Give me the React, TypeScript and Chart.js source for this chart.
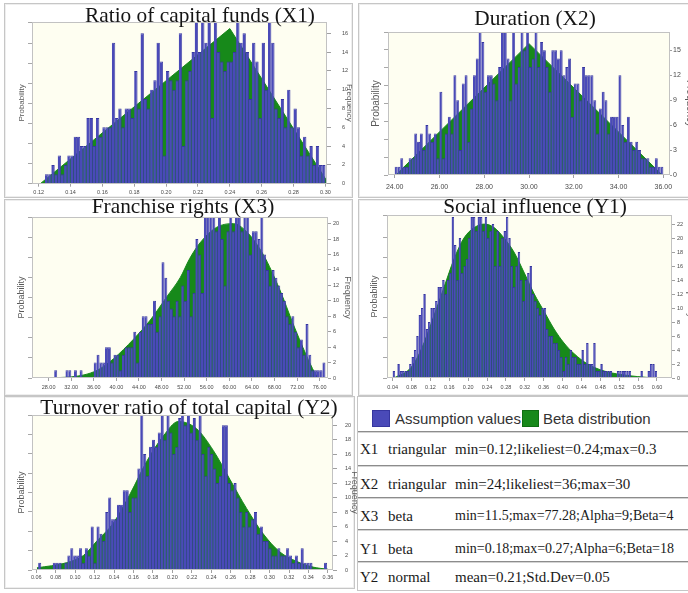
import React, { useEffect, useRef } from 'react';
import { Chart, registerables } from 'chart.js';

Chart.register(...registerables);

// ---------------- data ----------------
const SERIES_LABELS = ['Assumption values', 'Beta distribution'];
const LEFT_AXIS_TITLE = 'Probability';
const RIGHT_AXIS_TITLE = 'Frequency';

// X1
const X1_TITLE = 'Ratio of capital funds (X1)';
const X1_BIN_START = 0.124;
const X1_BIN_WIDTH = 0.002;
const X1_FREQ = [
  1, 1, 2, 1, 3, 1, 2, 3, 3, 5,
  5, 4, 4, 7, 7, 4, 7, 5, 6, 6,
  6, 15, 7, 8, 6, 8, 8, 7, 12, 8,
  16, 9, 8, 10, 11, 15, 13, 3, 12, 11,
  10, 11, 16, 4, 11, 12, 14, 18, 14, 18,
  15, 18, 7, 18, 14, 13, 12, 13, 13, 14,
  18, 15, 16, 14, 9, 15, 13, 7, 15, 10,
  18, 15, 8, 7, 9, 6, 10, 6, 8, 6,
  3, 5, 3, 4, 2, 4, 2, 2,
];
const X1_FIT_X = [0.121, 0.24, 0.302];
const X1_FIT_Y = [0, 16.5, 0];
const X1_X_TICKS = ['0.12', '0.14', '0.16', '0.18', '0.20', '0.22', '0.24', '0.26', '0.28', '0.30'];
const X1_Y_TICKS = ['0', '2', '4', '6', '8', '10', '12', '14', '16'];

// X2
const X2_TITLE = 'Duration (X2)';
const X2_BIN_START = 24.0;
const X2_BIN_WIDTH = 0.125;
const X2_FREQ = [
  1, 1, 2, 1, 1, 2, 2, 5, 4, 5,
  3, 6, 5, 4, 5, 2, 10, 2, 5, 7,
  5, 12, 9, 3, 11, 12, 4, 8, 12, 14,
  18, 16, 10, 12, 12, 11, 9, 13, 18, 18,
  14, 9, 18, 11, 13, 18, 15, 18, 13, 14,
  18, 13, 16, 15, 13, 10, 15, 15, 14, 15,
  12, 13, 14, 7, 11, 11, 9, 13, 12, 12,
  12, 9, 5, 8, 10, 9, 5, 7, 7, 7,
  12, 6, 4, 7, 4, 3, 4, 3, 2, 2,
  2, 1, 1, 2, 1, 1,
];
const X2_FIT_X = [24.05, 30.0, 35.95];
const X2_FIT_Y = [0, 15.8, 0];
const X2_X_TICKS = ['24.00', '26.00', '28.00', '30.00', '32.00', '34.00', '36.00'];
const X2_Y_TICKS = ['0', '3', '6', '9', '12', '15'];

// X3
const X3_TITLE = 'Franchise rights (X3)';
const X3_BIN_START = 26.0;
const X3_BIN_WIDTH = 0.5;
const X3_FREQ = [
  0, 0, 0, 0, 0, 0, 1, 0, 0, 0,
  1, 1, 0, 1, 0, 1, 0, 0, 0, 0,
  2, 3, 2, 2, 4, 4, 2, 3, 3, 1,
  3, 4, 4, 4, 6, 2, 6, 8, 8, 7,
  7, 10, 6, 8, 15, 13, 10, 9, 8, 10,
  8, 12, 10, 14, 8, 11, 18, 16, 11, 22,
  22, 22, 22, 19, 22, 18, 12, 19, 22, 19,
  22, 22, 19, 21, 21, 16, 19, 19, 18, 22,
  16, 14, 12, 14, 13, 12, 11, 10, 8, 7,
  8, 6, 4, 5, 3, 7, 3, 1, 1, 1,
  1, 2,
];
const X3_FIT_X = [26.5, 31.2, 34.8, 37.1, 39.5, 43.0, 46.0, 48.9, 51.3, 53.0, 54.8, 57.7, 60.7, 63.0, 66.0, 68.9, 71.3, 73.6, 75.1, 75.7];
const X3_FIT_Y = [0, 0.1, 0.5, 1.2, 2.5, 5, 7.5, 10.5, 13, 15.5, 17.5, 19.5, 20, 19, 16, 11.5, 7, 3, 0.7, 0];
const X3_X_TICKS = ['28.00', '32.00', '36.00', '40.00', '44.00', '48.00', '52.00', '56.00', '60.00', '64.00', '68.00', '72.00', '76.00'];
const X3_Y_TICKS = ['0', '2', '4', '6', '8', '10', '12', '14', '16', '18', '20'];

// Y1
const Y1_TITLE = 'Social influence (Y1)';
const Y1_BIN_START = 0.04;
const Y1_BIN_WIDTH = 0.005;
const Y1_FREQ = [
  1, 0, 2, 1, 1, 1, 1, 2, 3, 4,
  6, 9, 10, 12, 7, 8, 10, 10, 11, 13,
  13, 14, 12, 14, 15, 23, 19, 14, 20, 15,
  16, 17, 20, 23, 23, 21, 23, 23, 21, 23,
  20, 21, 22, 16, 21, 16, 20, 21, 23, 20,
  16, 13, 16, 18, 14, 11, 14, 15, 16, 12,
  11, 10, 9, 10, 10, 7, 6, 6, 5, 5,
  4, 3, 1, 3, 2, 4, 3, 3, 2, 2,
  4, 2, 5, 2, 2, 5, 1, 1, 2, 1,
  1, 1, 1, 0, 0, 1, 1, 1, 1, 1,
  1, 0, 0, 0, 0, 1, 0, 0, 1, 2,
  2, 1,
];
const Y1_FIT_X = [0.043, 0.079, 0.1, 0.128, 0.149, 0.17, 0.191, 0.213, 0.234, 0.255, 0.276, 0.297, 0.319, 0.34, 0.361, 0.382, 0.403, 0.424, 0.453, 0.488, 0.523, 0.559, 0.594];
const Y1_FIT_Y = [0, 1.5, 4, 9, 13, 17, 20, 21.5, 22, 21.5, 20, 18, 15, 12, 9.5, 7, 5, 3.5, 2, 1, 0.5, 0.2, 0];
const Y1_X_TICKS = ['0.04', '0.08', '0.12', '0.16', '0.20', '0.24', '0.28', '0.32', '0.36', '0.40', '0.44', '0.48', '0.52', '0.56', '0.60'];
const Y1_Y_TICKS = ['0', '2', '4', '6', '8', '10', '12', '14', '16', '18', '20', '22'];

// Y2
const Y2_TITLE = 'Turnover ratio of total capital (Y2)';
const Y2_BIN_START = 0.062;
const Y2_BIN_WIDTH = 0.003;
const Y2_FREQ = [
  1, 0, 0, 0, 0, 1, 1, 1, 0, 1,
  2, 3, 2, 2, 3, 1, 3, 2, 6, 1,
  6, 5, 4, 8, 10, 7, 7, 9, 9, 11,
  11, 8, 10, 10, 14, 22, 16, 13, 17, 18,
  17, 19, 22, 18, 22, 19, 16, 17, 21, 22,
  20, 22, 19, 21, 18, 22, 16, 13, 17, 16,
  14, 12, 13, 20, 20, 12, 11, 12, 10, 8,
  6, 8, 6, 7, 8, 5, 6, 4, 4, 3,
  2, 2, 3, 2, 2, 3, 2, 1, 2, 1,
  3, 1, 1, 1, 0, 0, 0, 0, 1,
];
const Y2_FIT_X = [0.0607, 0.091, 0.1085, 0.1223, 0.1394, 0.1565, 0.1736, 0.1907, 0.2061, 0.2249, 0.2421, 0.2592, 0.2763, 0.2934, 0.3105, 0.3276, 0.3447, 0.36];
const Y2_FIT_Y = [0.3, 1, 2, 4, 6.5, 10.5, 15, 18.5, 20.5, 19.5, 16.5, 12.5, 8.5, 5, 2.5, 1.2, 0.4, 0.1];
const Y2_X_TICKS = ['0.06', '0.08', '0.10', '0.12', '0.14', '0.16', '0.18', '0.20', '0.22', '0.24', '0.26', '0.28', '0.30', '0.32', '0.34', '0.36'];
const Y2_Y_TICKS = ['0', '2', '4', '6', '8', '10', '12', '14', '16', '18', '20'];

// Table
const TABLE_IDS = ['X1', 'X2', 'X3', 'Y1', 'Y2'];
const TABLE_TYPES = ['triangular', 'triangular', 'beta', 'beta', 'normal'];
const TABLE_PARAMS = [
  'min=0.12;likeliest=0.24;max=0.3',
  'min=24;likeliest=36;max=30',
  'min=11.5;max=77.28;Alpha=9;Beta=4',
  'min=0.18;max=0.27;Alpha=6;Beta=18',
  'mean=0.21;Std.Dev=0.05',
];

// ---------------- styling / layout ----------------
const BLUE = '#4a4ab8';
const BLUE_EDGE = '#36369f';
const GREEN = '#17891a';
const PLOT_BG = '#fefef1';
const PLOT_EDGE = '#c2c2c2';
const TICK_COLOR = '#4a4a4a';
const AXIS_TITLE_COLOR = '#5a5a5a';
const SANS = '"Liberation Sans", Arial, sans-serif';
const SERIF = '"Liberation Serif", "Times New Roman", serif';

const PANELS = [
  {
    title: X1_TITLE, binStart: X1_BIN_START, binWidth: X1_BIN_WIDTH, freq: X1_FREQ,
    fitX: X1_FIT_X, fitY: X1_FIT_Y, xTicks: X1_X_TICKS, yTicks: X1_Y_TICKS, smooth: false,
    box: { left: 5, top: 4, width: 349, height: 194 }, leftW: 27, rightW: 27, padTop: 18, xH: 14,
    xMin: 0.1158, xMax: 0.301, yMax: 17.2, probMax: 8.1,
    tickFont: 5.5, xTickPad: 2, yTickLen: 4, yTickPad: 11, probFont: 8, probPad: 11.9, freqPad: 0.2,
    titleX: 200, titleBase: 22,
  },
  {
    title: X2_TITLE, binStart: X2_BIN_START, binWidth: X2_BIN_WIDTH, freq: X2_FREQ,
    fitX: X2_FIT_X, fitY: X2_FIT_Y, xTicks: X2_X_TICKS, yTicks: X2_Y_TICKS, smooth: false,
    box: { left: 359, top: 4, width: 329, height: 192 }, leftW: 29, rightW: 18, padTop: 28, xH: 21,
    xMin: 23.7, xMax: 36.3, yMax: 17.2, probMax: 8.0,
    tickFont: 7, xTickPad: 4.5, yTickLen: 2, yTickPad: 1, probFont: 10, probPad: 11.7, freqPad: -8,
    titleX: 535, titleBase: 25,
  },
  {
    title: X3_TITLE, binStart: X3_BIN_START, binWidth: X3_BIN_WIDTH, freq: X3_FREQ,
    fitX: X3_FIT_X, fitY: X3_FIT_Y, xTicks: X3_X_TICKS, yTicks: X3_Y_TICKS, smooth: true,
    box: { left: 5, top: 199, width: 349, height: 195 }, leftW: 27, rightW: 26, padTop: 18, xH: 16,
    xMin: 25.06, xMax: 77.47, yMax: 20.86, probMax: 8.0,
    tickFont: 5.5, xTickPad: 3.4, yTickLen: 3, yTickPad: 2, probFont: 9, probPad: 11.3, freqPad: 0.8,
    titleX: 183, titleBase: 213,
  },
  {
    title: Y1_TITLE, binStart: Y1_BIN_START, binWidth: Y1_BIN_WIDTH, freq: Y1_FREQ,
    fitX: Y1_FIT_X, fitY: Y1_FIT_Y, xTicks: Y1_X_TICKS, yTicks: Y1_Y_TICKS, smooth: true,
    box: { left: 359, top: 199, width: 329, height: 195 }, leftW: 28, rightW: 16, padTop: 16, xH: 16,
    xMin: 0.028, xMax: 0.6318, yMax: 23.3, probMax: 8.1,
    tickFont: 5.5, xTickPad: 3.4, yTickLen: 3, yTickPad: 2, probFont: 9, probPad: 10.6, freqPad: -8,
    titleX: 535, titleBase: 213,
  },
  {
    title: Y2_TITLE, binStart: Y2_BIN_START, binWidth: Y2_BIN_WIDTH, freq: Y2_FREQ,
    fitX: Y2_FIT_X, fitY: Y2_FIT_Y, xTicks: Y2_X_TICKS, yTicks: Y2_Y_TICKS, smooth: true,
    box: { left: 5, top: 398, width: 352, height: 189 }, leftW: 27, rightW: 24, padTop: 17, xH: 17,
    xMin: 0.0556, xMax: 0.3652, yMax: 21.4, probMax: 8.0,
    tickFont: 5.5, xTickPad: 1, yTickLen: 4, yTickPad: 8, probFont: 9, probPad: 11.3, freqPad: -3,
    titleX: 189, titleBase: 414,
  },
];

const FRAMES = [
  { left: 4, top: 3, width: 349, height: 195 },
  { left: 358, top: 3, width: 335, height: 195 },
  { left: 4, top: 199, width: 349, height: 197 },
  { left: 358, top: 199, width: 335, height: 197 },
  { left: 4, top: 396, width: 351, height: 193 },
];

const plotFrame = {
  id: 'plotFrame',
  beforeDraw(chart: any) {
    const { ctx, chartArea } = chart;
    if (!chartArea) return;
    ctx.save();
    ctx.fillStyle = PLOT_BG;
    ctx.fillRect(chartArea.left, chartArea.top, chartArea.right - chartArea.left, chartArea.bottom - chartArea.top);
    ctx.restore();
  },
  afterDraw(chart: any) {
    const { ctx, chartArea } = chart;
    if (!chartArea) return;
    ctx.save();
    ctx.strokeStyle = PLOT_EDGE;
    ctx.lineWidth = 1;
    ctx.strokeRect(
      Math.round(chartArea.left) + 0.5,
      Math.round(chartArea.top) + 0.5,
      Math.round(chartArea.right - chartArea.left) - 1,
      Math.round(chartArea.bottom - chartArea.top) - 1
    );
    ctx.restore();
  },
};

function Histogram({ p }: { p: any }) {
  const ref = useRef<HTMLCanvasElement>(null);
  useEffect(() => {
    if (!ref.current) return;
    const bars = p.freq.map((f: number, i: number) => ({ x: p.binStart + p.binWidth * (i + 0.5), y: f }));
    const fit = p.fitX.map((x: number, i: number) => ({ x, y: p.fitY[i] }));
    const xVals = p.xTicks.map(Number);
    const yVals = p.yTicks.map(Number);
    const chart = new Chart(ref.current, {
      type: 'bar',
      data: {
        datasets: [
          {
            type: 'bar',
            label: SERIES_LABELS[0],
            data: bars,
            backgroundColor: BLUE,
            borderColor: BLUE_EDGE,
            borderWidth: { top: 1, right: 0.8, bottom: 0, left: 0 },
            borderSkipped: false,
            barPercentage: 1,
            categoryPercentage: 1.06,
            order: 0,
            xAxisID: 'x',
            yAxisID: 'y',
          },
          {
            type: 'line',
            label: SERIES_LABELS[1],
            data: fit,
            borderColor: GREEN,
            backgroundColor: GREEN,
            borderWidth: 1,
            fill: 'origin',
            pointRadius: 0,
            tension: p.smooth ? 0.4 : 0,
            cubicInterpolationMode: p.smooth ? 'monotone' : 'default',
            order: 1,
            xAxisID: 'x',
            yAxisID: 'y',
          },
        ],
      } as any,
      options: {
        responsive: false,
        animation: false,
        devicePixelRatio: 1,
        layout: { padding: { top: p.padTop, left: 0, right: 0, bottom: 0 } },
        plugins: {
          legend: { display: false },
          tooltip: { enabled: false },
          title: { display: false },
        },
        scales: {
          x: {
            type: 'linear',
            position: 'bottom',
            min: p.xMin,
            max: p.xMax,
            offset: false,
            afterBuildTicks: (s: any) => {
              s.ticks = xVals.map((v: number) => ({ value: v }));
            },
            afterFit: (s: any) => {
              s.height = p.xH;
            },
            grid: { drawOnChartArea: false, drawTicks: true, tickLength: 3, color: '#a0a0a0', offset: false },
            border: { display: false },
            ticks: {
              autoSkip: false,
              maxRotation: 0,
              minRotation: 0,
              padding: p.xTickPad,
              color: TICK_COLOR,
              font: { size: p.tickFont, family: SANS },
              callback: (_v: any, i: number) => p.xTicks[i],
            },
          },
          y: {
            type: 'linear',
            position: 'right',
            min: 0,
            max: p.yMax,
            afterBuildTicks: (s: any) => {
              s.ticks = yVals.map((v: number) => ({ value: v }));
            },
            afterFit: (s: any) => {
              s.width = p.rightW;
            },
            grid: { drawOnChartArea: false, drawTicks: true, tickLength: p.yTickLen, color: '#a0a0a0' },
            border: { display: false },
            ticks: {
              padding: p.yTickPad,
              color: TICK_COLOR,
              font: { size: p.tickFont, family: SANS },
              callback: (_v: any, i: number) => p.yTicks[i],
            },
            title: {
              display: true,
              text: RIGHT_AXIS_TITLE,
              color: AXIS_TITLE_COLOR,
              font: { size: p.probFont, family: SANS },
              padding: { top: p.freqPad, bottom: 0 },
            },
          },
          yl: {
            type: 'linear',
            position: 'left',
            min: 0,
            max: p.probMax,
            afterFit: (s: any) => {
              s.width = p.leftW;
            },
            grid: { drawOnChartArea: false, drawTicks: true, tickLength: 4, color: '#a8a8a8' },
            border: { display: false },
            ticks: { display: false, stepSize: 1 },
            title: {
              display: true,
              text: LEFT_AXIS_TITLE,
              color: AXIS_TITLE_COLOR,
              font: { size: p.probFont, family: SANS },
              padding: { top: p.probPad, bottom: 0 },
            },
          },
        },
      } as any,
      plugins: [plotFrame],
    });
    return () => chart.destroy();
  }, [p]);
  return (
    <canvas
      ref={ref}
      width={p.box.width}
      height={p.box.height}
      style={{ position: 'absolute', left: p.box.left, top: p.box.top, width: p.box.width, height: p.box.height }}
    />
  );
}

const ROW_LINES = [431, 465, 497, 529, 561];
const ROW_CENTERS = [449, 484, 516, 549, 577];
const ROW_PARAM_SIZES = [15, 15, 14, 14, 15];

function ParamTable() {
  return (
    <>
      <div style={{ position: 'absolute', left: 357, top: 396, width: 340, height: 195, boxSizing: 'border-box', border: '1px solid #c6c6c6', background: '#fff' }} />
      <div style={{ position: 'absolute', left: 372, top: 410, width: 18, height: 17, boxSizing: 'border-box', background: BLUE, border: '1px solid ' + BLUE_EDGE }} />
      <div style={{ position: 'absolute', left: 395, top: 410, font: '15px ' + SANS, lineHeight: '18px', color: '#333', whiteSpace: 'nowrap' }}>{SERIES_LABELS[0]}</div>
      <div style={{ position: 'absolute', left: 522, top: 410, width: 17, height: 17, boxSizing: 'border-box', background: GREEN, border: '1px solid #0f6e12' }} />
      <div style={{ position: 'absolute', left: 543, top: 410, font: '15px ' + SANS, lineHeight: '18px', color: '#333', whiteSpace: 'nowrap' }}>{SERIES_LABELS[1]}</div>
      {ROW_LINES.map((y, i) => (
        <div key={'l' + i} style={{ position: 'absolute', left: 358, top: y, width: 330, height: 0, borderTop: '1px solid #8c8c8c', borderBottom: '1px solid #d4d4d4' }} />
      ))}
      {TABLE_IDS.map((id, i) => (
        <React.Fragment key={id}>
          <div style={{ position: 'absolute', left: 360, top: ROW_CENTERS[i] - 9, font: '15px ' + SERIF, lineHeight: '18px', color: '#1a1a1a', whiteSpace: 'nowrap' }}>{id}</div>
          <div style={{ position: 'absolute', left: 388, top: ROW_CENTERS[i] - 9, font: '15px ' + SERIF, lineHeight: '18px', color: '#1a1a1a', whiteSpace: 'nowrap' }}>{TABLE_TYPES[i]}</div>
          <div style={{ position: 'absolute', left: 455, top: ROW_CENTERS[i] - 9, font: ROW_PARAM_SIZES[i] + 'px ' + SERIF, lineHeight: '18px', color: '#1a1a1a', whiteSpace: 'nowrap' }}>{TABLE_PARAMS[i]}</div>
        </React.Fragment>
      ))}
    </>
  );
}

export default function App() {
  return (
    <div style={{ position: 'fixed', left: 0, top: 0, width: 688, height: 593, background: '#fff', overflow: 'hidden' }}>
      {FRAMES.map((f, i) => (
        <div key={'f' + i} style={{ position: 'absolute', ...f, boxSizing: 'border-box', border: '1px solid #c6c6c6', boxShadow: 'inset 0 0 0 1px #eeeeee', background: '#fff' }} />
      ))}
      <ParamTable />
      {PANELS.map((p, i) => (
        <Histogram key={'h' + i} p={p} />
      ))}
      {PANELS.map((p, i) => (
        <div
          key={'t' + i}
          style={{
            position: 'absolute',
            left: p.titleX - 250,
            width: 500,
            top: p.titleBase - 18.4,
            textAlign: 'center',
            font: '22px ' + SERIF,
            lineHeight: '22px',
            color: '#151515',
            transform: 'scaleX(0.97)',
            whiteSpace: 'nowrap',
            pointerEvents: 'none',
          }}
        >
          {p.title}
        </div>
      ))}
    </div>
  );
}
